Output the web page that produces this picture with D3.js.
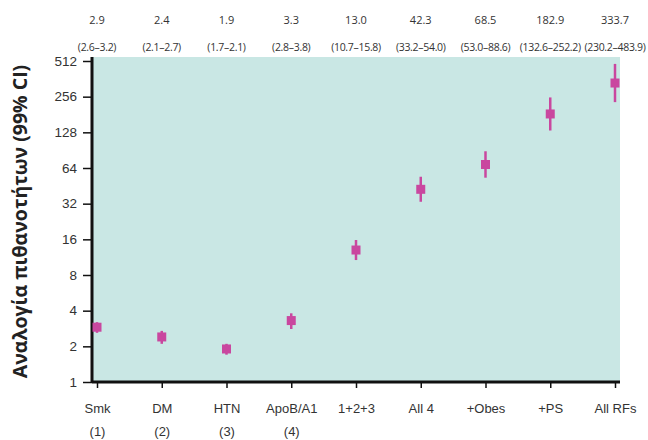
<!DOCTYPE html>
<html>
<head>
<meta charset="utf-8">
<script src="https://cdn.jsdelivr.net/npm/d3@7"></script>
<style>
body { margin: 0; background: #fff; }
svg { font-family: "Open Sans", "Noto Sans", sans-serif; }
</style>
</head>
<body>
<svg id="chart" width="648" height="440"></svg>
<script>
const categories = ['Smk', 'DM', 'HTN', 'ApoB/A1', '1+2+3', 'All 4', '+Obes', '+PS', 'All RFs'];
const subLabels = ['(1)', '(2)', '(3)', '(4)', '', '', '', '', ''];
const oddsRatio = [2.9, 2.4, 1.9, 3.3, 13.0, 42.3, 68.5, 182.9, 333.7];
const ciLow = [2.6, 2.1, 1.7, 2.8, 10.7, 33.2, 53.0, 132.6, 230.2];
const ciHigh = [3.2, 2.7, 2.1, 3.8, 15.8, 54.0, 88.6, 252.2, 483.9];
const yTicks = [1, 2, 4, 8, 16, 32, 64, 128, 256, 512];

const margin = {left: 92, right: 28, top: 61, bottom: 58};
const svg = d3.select('#chart');
const width = 648 - margin.left - margin.right;
const height = 440 - margin.top - margin.bottom;

const g = svg.append('g')
    .attr('transform', `translate(${margin.left},${margin.top})`);

const x = d3.scalePoint()
    .domain(categories)
    .range([5, width - 5]);

const y = d3.scaleLog()
    .base(2)
    .domain([1, 512])
    .range([height, 0]);

// background panel
g.append('rect')
    .attr('x', 0)
    .attr('y', -4)
    .attr('width', width)
    .attr('height', height + 4)
    .attr('fill', '#c9e7e4');

// y axis
const yAxis = g.append('g')
    .call(d3.axisLeft(y)
        .tickValues(yTicks)
        .tickFormat(d3.format('d'))
        .tickSize(9)
        .tickPadding(6));
yAxis.select('.domain').remove();
yAxis.selectAll('.tick line').attr('stroke', '#111').attr('stroke-width', 1.5);
yAxis.selectAll('.tick text')
    .attr('font-size', 13.5)
    .attr('fill', '#333');

// x axis
const xAxis = g.append('g')
    .attr('transform', `translate(0,${height})`)
    .call(d3.axisBottom(x)
        .tickSize(6)
        .tickPadding(16));
xAxis.select('.domain').remove();
xAxis.selectAll('.tick line').attr('stroke', '#111').attr('stroke-width', 1.5);
xAxis.selectAll('.tick text')
    .attr('font-size', 13)
    .attr('fill', '#333');

xAxis.selectAll('.tick')
    .append('text')
    .attr('y', 54)
    .attr('fill', '#333')
    .attr('font-size', 13)
    .text((d, i) => subLabels[i]);

// thick axis lines
g.append('line')
    .attr('x1', 0).attr('x2', 0)
    .attr('y1', -4).attr('y2', height)
    .attr('stroke', '#111').attr('stroke-width', 3);
g.append('line')
    .attr('x1', 0).attr('x2', width)
    .attr('y1', height).attr('y2', height)
    .attr('stroke', '#111').attr('stroke-width', 3);

const data = categories.map((c, i) => ({
    cat: c, or: oddsRatio[i], lo: ciLow[i], hi: ciHigh[i]
}));

// CI bars
g.append('g')
    .selectAll('line')
    .data(data)
    .join('line')
    .attr('x1', d => x(d.cat))
    .attr('x2', d => x(d.cat))
    .attr('y1', d => y(d.lo))
    .attr('y2', d => y(d.hi))
    .attr('stroke', '#c9479f')
    .attr('stroke-width', 2.5);

// markers
g.append('g')
    .selectAll('rect')
    .data(data)
    .join('rect')
    .attr('x', d => x(d.cat) - 4.5)
    .attr('y', d => y(d.or) - 4.5)
    .attr('width', 9)
    .attr('height', 9)
    .attr('fill', '#c9479f');

// values above the plot
const header = svg.append('g')
    .attr('transform', `translate(${margin.left},0)`);
header.selectAll('text.val')
    .data(data)
    .join('text')
    .attr('class', 'val')
    .attr('x', d => x(d.cat))
    .attr('y', 24)
    .attr('text-anchor', 'middle')
    .attr('font-size', 11)
    .attr('fill', '#333')
    .text(d => d.or.toFixed(1));
header.selectAll('text.ci')
    .data(data)
    .join('text')
    .attr('class', 'ci')
    .attr('x', d => x(d.cat))
    .attr('y', 51)
    .attr('text-anchor', 'middle')
    .attr('font-size', 10.5)
    .attr('letter-spacing', -0.3)
    .attr('fill', '#333')
    .text(d => `(${d.lo.toFixed(1)}–${d.hi.toFixed(1)})`);

// y title
svg.append('text')
    .attr('transform', `translate(27,${margin.top + height / 2}) rotate(-90)`)
    .attr('text-anchor', 'middle')
    .attr('font-size', 19.5)
    .attr('font-weight', 'bold')
    .attr('fill', '#222')
    .text('Αναλογία πιθανοτήτων (99% CI)');
</script>
</body>
</html>
